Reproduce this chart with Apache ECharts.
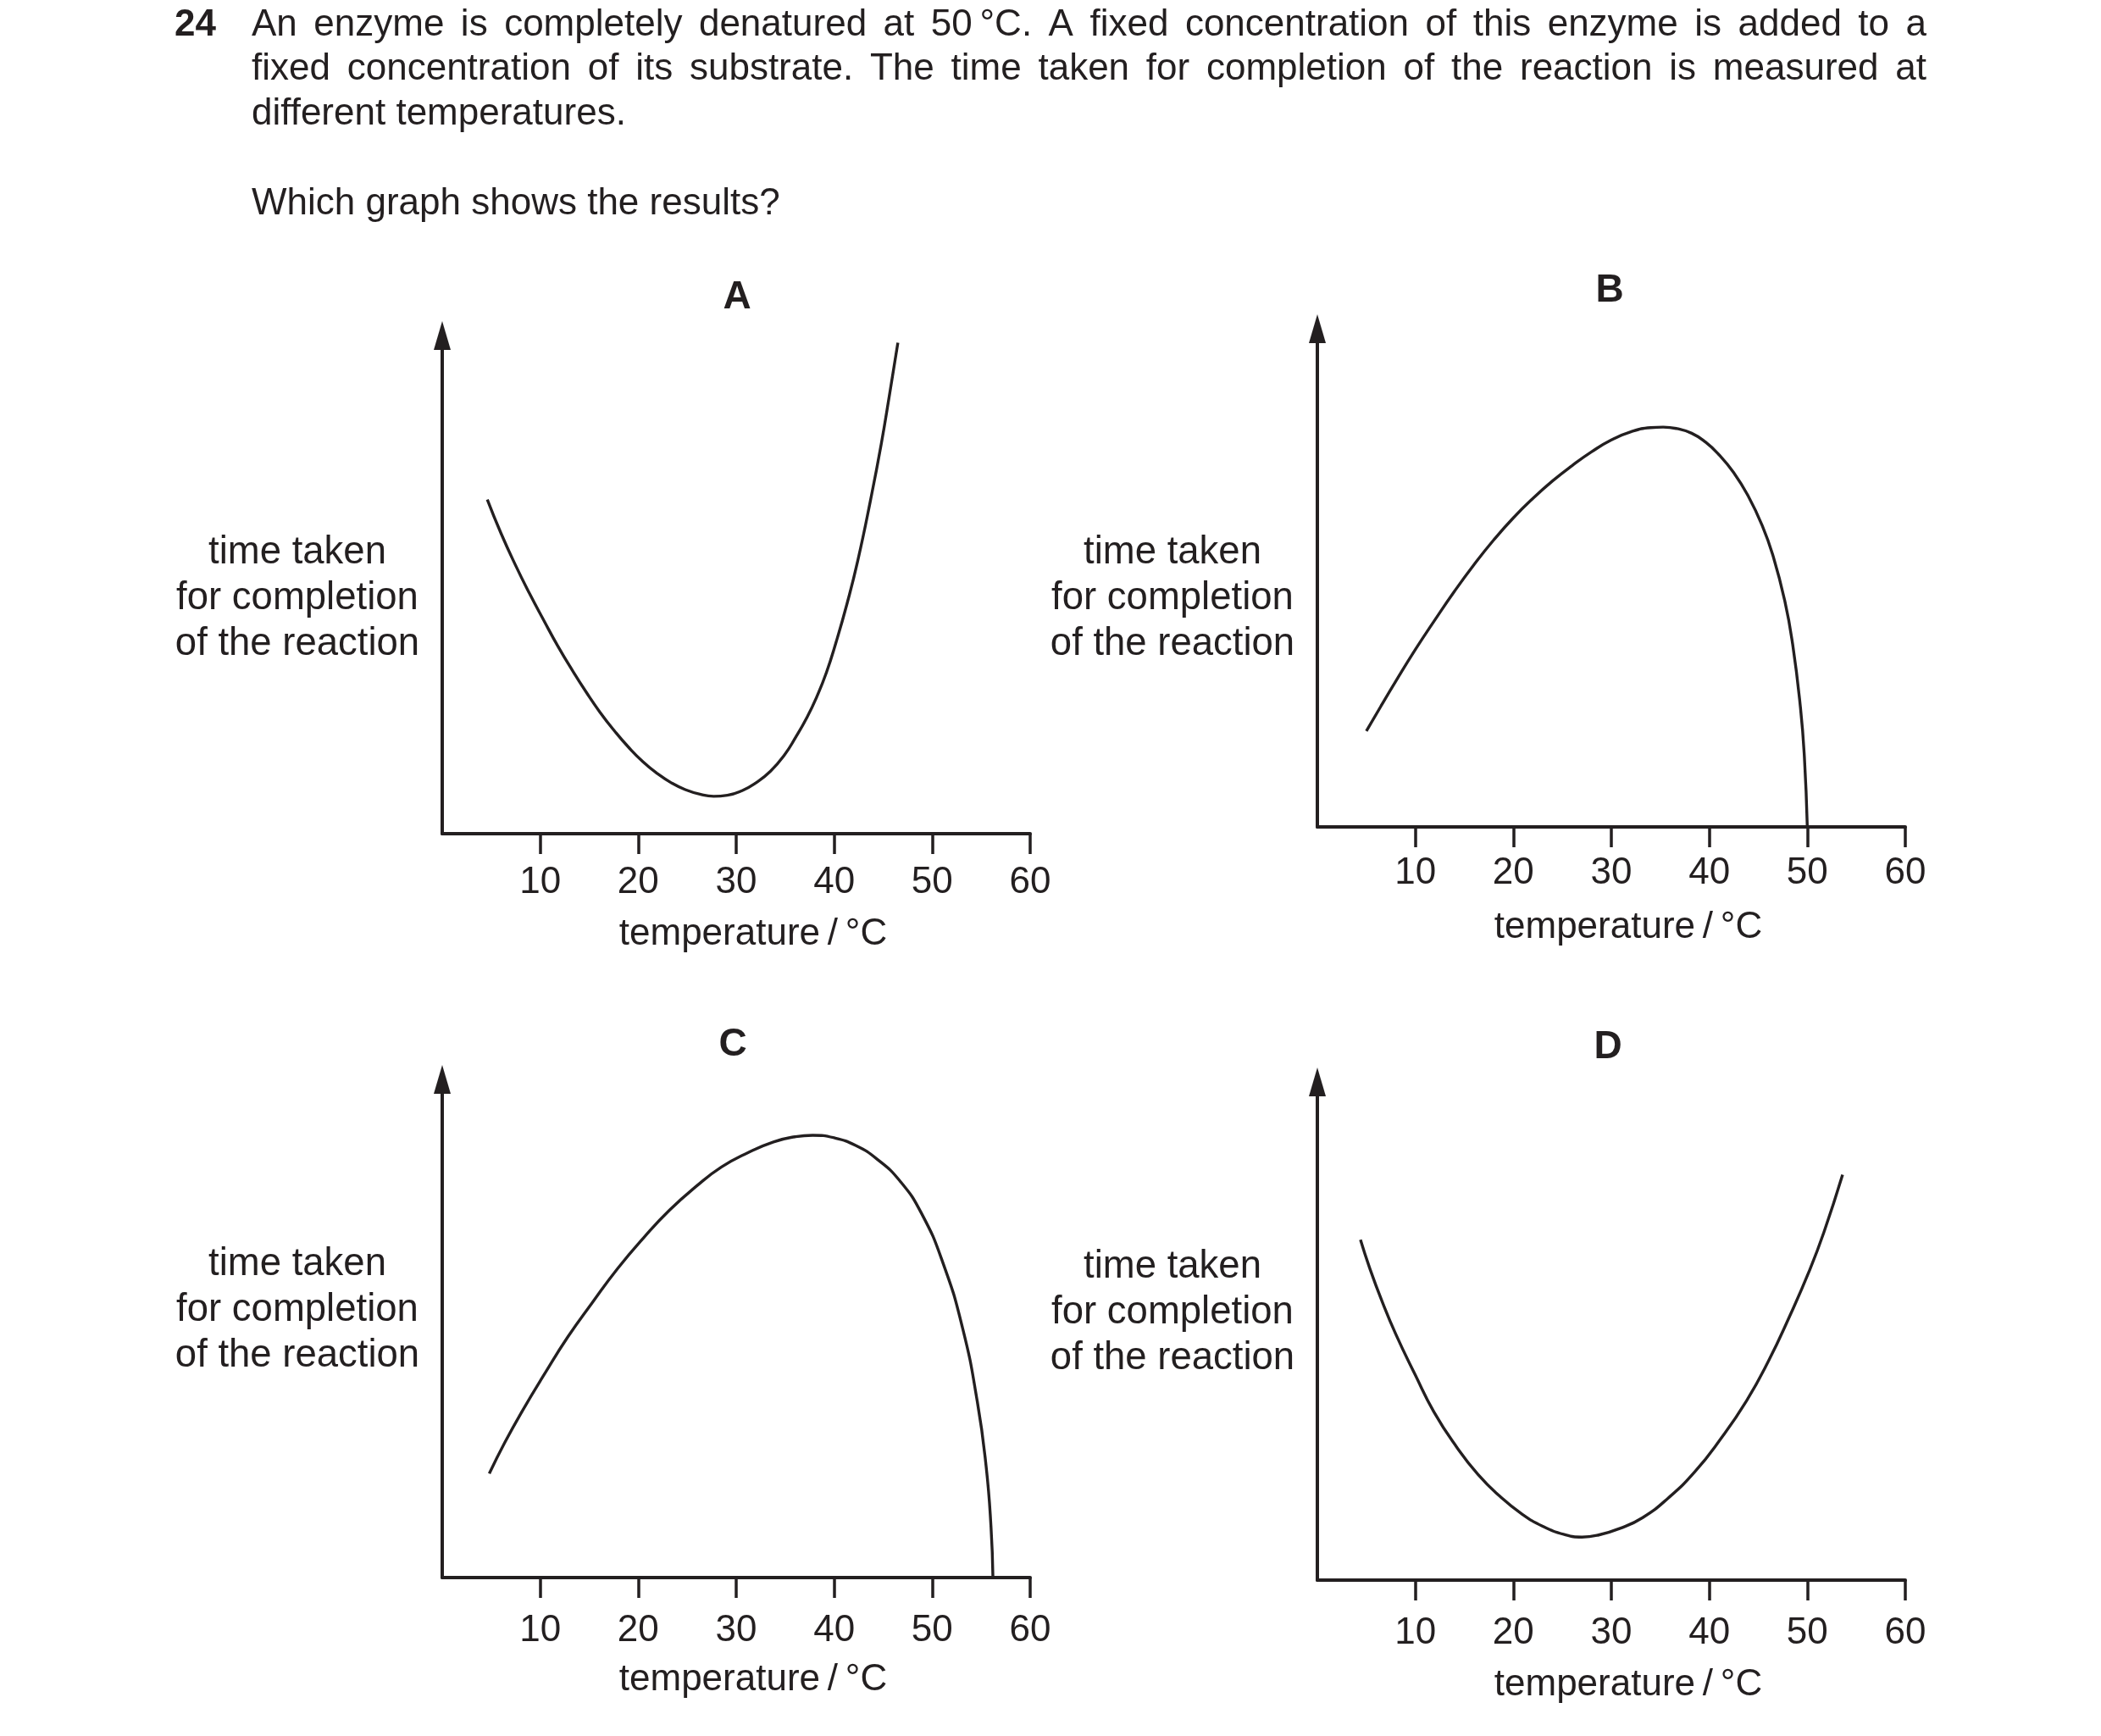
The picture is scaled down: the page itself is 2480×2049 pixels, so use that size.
<!DOCTYPE html>
<html>
<head>
<meta charset="utf-8">
<script src="https://cdn.jsdelivr.net/npm/echarts@6/dist/echarts.min.js"></script>
<style>
  html, body { margin: 0; padding: 0; background: #fff; }
  #chart { width: 2480px; height: 2049px; }
</style>
</head>
<body>
<div id="chart"></div>
<script>
// tick labels on every temperature axis
const xTicks = [10, 20, 30, 40, 50, 60];

// graph A: U shape, minimum near 28 °C
const aTemp = [4.6, 6.0, 7.5, 8.9, 10.4, 11.8, 13.3, 14.7, 16.1, 17.6, 19.0, 20.5, 21.9, 23.4, 24.8, 26.3, 27.7, 29.1, 30.6, 32.0, 33.5, 34.9, 36.1, 37.2, 38.2, 39.2, 40.2, 41.3, 42.4, 43.7, 44.8, 45.7, 46.5];
const aTime = [65.2, 58.6, 52.3, 46.9, 41.5, 36.6, 31.8, 27.6, 23.7, 20.0, 16.9, 14.0, 11.8, 9.9, 8.6, 7.7, 7.3, 7.5, 8.4, 9.9, 12.2, 15.3, 18.9, 22.6, 26.6, 31.4, 37.4, 44.8, 53.2, 65.0, 76.0, 86.3, 95.8];

// graph B: hump, falls to zero at 50 °C
const bTemp = [5.0, 6.5, 8.0, 10.0, 12.0, 14.0, 16.0, 18.0, 20.0, 22.0, 24.0, 26.0, 28.0, 30.0, 32.0, 34.0, 35.3, 36.7, 38.2, 39.6, 41.0, 42.5, 43.9, 45.4, 46.5, 47.7, 48.5, 49.3, 49.7, 50.0];
const bTime = [18.7, 23.6, 28.4, 34.6, 40.4, 46.0, 51.2, 56.0, 60.3, 64.1, 67.5, 70.5, 73.2, 75.5, 77.1, 77.9, 78.0, 77.7, 76.8, 75.1, 72.6, 69.1, 64.8, 58.8, 52.9, 44.1, 35.7, 23.3, 13.7, 0];

// graph C: hump, falls to zero near 56 °C
const cTemp = [4.8, 6.4, 8.2, 10.4, 12.8, 15.3, 17.9, 20.6, 23.2, 25.9, 28.5, 31.2, 33.8, 36.0, 37.8, 40.0, 42.2, 44.4, 46.7, 48.9, 51.1, 53.1, 54.6, 55.5, 56.0, 56.2];
const cTime = [20.3, 26.4, 32.6, 39.6, 46.9, 53.6, 60.3, 66.4, 71.7, 76.3, 80.1, 82.9, 85.0, 86.0, 86.3, 85.8, 84.3, 81.6, 77.4, 71.1, 61.4, 48.7, 34.4, 21.8, 10.0, 0];

// graph D: wide U shape, minimum near 27 °C
const dTemp = [4.4, 5.3, 6.6, 8.0, 10.0, 11.9, 14.2, 16.4, 18.6, 20.8, 23.0, 25.2, 27.0, 28.7, 30.9, 33.2, 35.8, 38.5, 41.1, 43.8, 46.0, 48.2, 50.2, 51.7, 53.6];
const dTime = [66.4, 61.1, 54.4, 48.0, 40.0, 32.8, 26.0, 20.6, 16.4, 13.0, 10.5, 8.9, 8.4, 8.8, 10.1, 12.2, 16.0, 21.1, 27.4, 35.0, 42.6, 51.5, 60.3, 67.9, 79.1];

const graphLetters = ['A', 'B', 'C', 'D'];
const yName = 'time taken\nfor completion\nof the reaction';
const xName = 'temperature\u2009/\u2009°C';

const questionNumber = '24';
const questionLines = [
  'An enzyme is completely denatured at 50\u2009°C. A fixed concentration of this enzyme is added to a',
  'fixed concentration of its substrate. The time taken for completion of the reaction is measured at',
  'different temperatures.'
];
const questionPrompt = 'Which graph shows the results?';

const INK = '#231f20';
const FONT = '"Liberation Sans", Arial, sans-serif';

const zip = (xs, ys) => xs.map((x, i) => [x, ys[i]]);
const curves = [zip(aTemp, aTime), zip(bTemp, bTime), zip(cTemp, cTime), zip(dTemp, dTime)];

const grids = [
  { left: 522, top: 396, width: 694, height: 588 },
  { left: 1555, top: 388, width: 694, height: 588 },
  { left: 522, top: 1274, width: 694, height: 588 },
  { left: 1555, top: 1277, width: 694, height: 588 }
];
const labelMargin = [36, 33, 41, 41];
const xNameGap = [119, 119, 121, 124];
const yNamePos = [[351, 706], [1384, 706], [351, 1546], [1384, 1549]];
const letterPos = [[870, 351], [1900, 343], [865, 1233], [1898, 1236]];

const xAxes = grids.map((g, i) => ({
  type: 'value', gridIndex: i, min: 0, max: 60, interval: 10,
  axisLine: { show: true, lineStyle: { color: INK, width: 4 } },
  axisTick: { show: true, inside: false, length: 24, customValues: xTicks, lineStyle: { color: INK, width: 3.5 } },
  axisLabel: { show: true, customValues: xTicks, margin: labelMargin[i], fontSize: 44, lineHeight: 44, color: INK, fontFamily: FONT },
  splitLine: { show: false },
  name: xName, nameLocation: 'middle', nameGap: xNameGap[i],
  nameTextStyle: { fontSize: 44, color: INK, fontFamily: FONT, verticalAlign: 'middle', padding: [0, 0, 0, 40] }
}));

const yAxes = grids.map((g, i) => ({
  type: 'value', gridIndex: i, min: 0, max: 97.2,
  axisLine: { show: true, symbol: ['none', 'triangle'], symbolSize: [20, 34], lineStyle: { color: INK, width: 4 } },
  axisTick: { show: false },
  axisLabel: { show: false },
  splitLine: { show: false }
}));

const series = curves.map((data, i) => ({
  type: 'line', xAxisIndex: i, yAxisIndex: i, data: data,
  smooth: 0.5, showSymbol: false, silent: true,
  lineStyle: { color: INK, width: 3.4 }
}));

// justified question text, word by word
const ctx = document.createElement('canvas').getContext('2d');
ctx.font = '44px "Liberation Sans"';
function justified(line, x0, x1, y) {
  const words = line.split(' ');
  const widths = words.map(w => ctx.measureText(w).width);
  const total = widths.reduce((s, w) => s + w, 0);
  const gap = (x1 - x0 - total) / (words.length - 1);
  let x = x0;
  return words.map((w, i) => {
    const el = { type: 'text', x: x, y: y, style: { text: w, fontSize: 44, fontFamily: FONT, fill: INK, verticalAlign: 'middle' } };
    x += widths[i] + gap;
    return el;
  });
}
const textEl = (text, x, y, extra) => ({
  type: 'text', x: x, y: y,
  style: Object.assign({ text: text, fontSize: 44, fontFamily: FONT, fill: INK, verticalAlign: 'middle' }, extra || {})
});

const graphic = [].concat(
  [textEl(questionNumber, 206, 30, { fontWeight: 'bold' })],
  justified(questionLines[0], 297, 2274, 30),
  justified(questionLines[1], 297, 2274, 82),
  [textEl(questionLines[2], 297, 135)],
  [textEl(questionPrompt, 297, 241)],
  graphLetters.map((l, i) => textEl(l, letterPos[i][0], letterPos[i][1], { fontWeight: 'bold', fontSize: 46, align: 'center' })),
  yNamePos.map(p => textEl(yName, p[0], p[1], { align: 'center', fontSize: 45.5, lineHeight: 54 }))
);

const chart = echarts.init(document.getElementById('chart'), null, { renderer: 'canvas' });
chart.setOption({
  backgroundColor: '#ffffff',
  animation: false,
  grid: grids,
  xAxis: xAxes,
  yAxis: yAxes,
  series: series,
  graphic: graphic
});
</script>
</body>
</html>
